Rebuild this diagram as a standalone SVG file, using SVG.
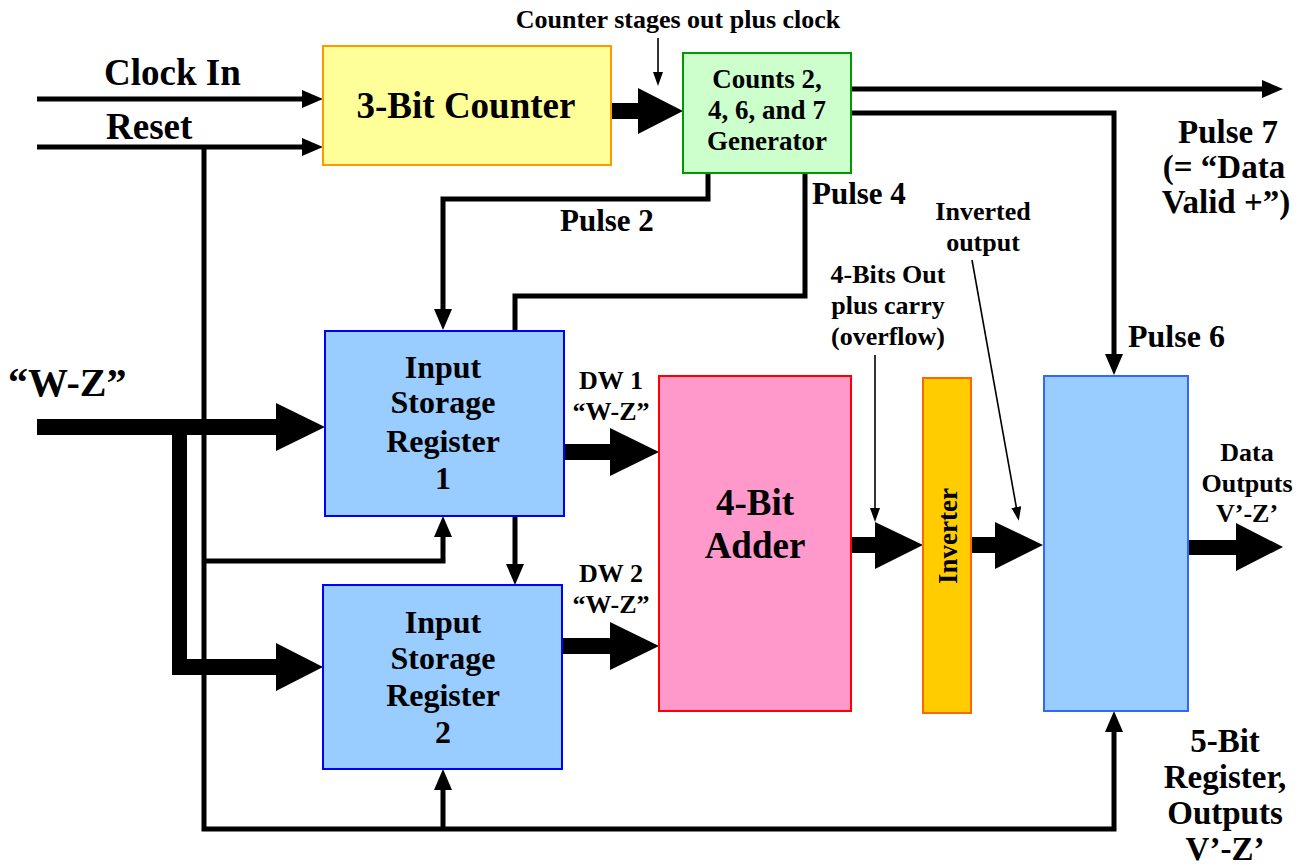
<svg xmlns="http://www.w3.org/2000/svg" width="1305" height="867" viewBox="0 0 1305 867">
<defs>
<style>
text{font-family:"Liberation Serif","Times New Roman",serif;font-weight:bold;fill:#000}
.c{text-anchor:middle}
.f40{font-size:40px}.f37{font-size:37px}.f33{font-size:33px}.f32{font-size:32px}.f31{font-size:31px}.f27{font-size:27px}.f26{font-size:26px}
.w{fill:none;stroke:#000;stroke-width:5;stroke-linejoin:miter}
.t{fill:none;stroke:#000;stroke-width:1.6}
.blk{fill:#000}
</style>
<marker id="ah" markerUnits="userSpaceOnUse" markerWidth="22" markerHeight="20" refX="8" refY="9" orient="auto"><path d="M0,0 L21,9 L0,18 z" fill="#000"/></marker>
<marker id="sa" markerUnits="userSpaceOnUse" markerWidth="16" markerHeight="12" refX="4" refY="5" orient="auto"><path d="M0,0 L14,5 L0,10 z" fill="#000"/></marker>
</defs>
<rect width="1305" height="867" fill="#fff"/>

<g id="connectors">
<path class="w" d="M37,99 H310" marker-end="url(#ah)"/>
<path class="w" d="M37,147 H310" marker-end="url(#ah)"/>
<path class="w" d="M204,147 V829 H1114 V724" marker-end="url(#ah)"/>
<path class="w" d="M204,561 H443 V529" marker-end="url(#ah)"/>
<path class="w" d="M443,829 V782" marker-end="url(#ah)"/>
<path class="w" d="M708,173 V199 H443 V317" marker-end="url(#ah)"/>
<path class="w" d="M805,173 V296 H515 V331"/>
<path class="w" d="M515,516 V572" marker-end="url(#ah)"/>
<path class="w" d="M852,89 H1270" marker-end="url(#ah)"/>
<path class="w" d="M852,113 H1114 V362" marker-end="url(#ah)"/>
<path class="t" d="M658,38 V76" marker-end="url(#sa)"/>
<path class="t" d="M875,355 V512" marker-end="url(#sa)"/>
<path class="t" d="M972,260 L1017,511" marker-end="url(#sa)"/>
<polygon class="blk" points="611,103 638,103 638,88 683,111 638,134 638,119 611,119"/>
<polygon class="blk" points="37,419 276,419 276,403 325,427 276,451 276,435 37,435"/>
<polygon class="blk" points="172,427 187,427 187,659 276,659 276,643 323,667 276,691 276,675 172,675"/>
<polygon class="blk" points="564,444 610,444 610,428 659,452 610,476 610,460 564,460"/>
<polygon class="blk" points="562,638 610,638 610,622 659,646 610,670 610,654 562,654"/>
<polygon class="blk" points="852,537 875,537 875,522 923,545 875,569 875,553 852,553"/>
<polygon class="blk" points="972,537 995,537 995,522 1043,545 995,569 995,553 972,553"/>
<polygon class="blk" points="1188,540 1236,540 1236,523 1283,547 1236,571 1236,555 1188,555"/>
</g>

<g id="counter">
<rect x="323" y="46" width="288" height="119" fill="#FFFF99" stroke="#FF9900" stroke-width="2"/>
<text class="c f37" x="466" y="118">3-Bit Counter</text>
</g>
<g id="generator">
<rect x="683" y="53" width="168" height="120" fill="#CCFFCC" stroke="#009900" stroke-width="2"/>
<text class="c f27" x="767" y="88">Counts 2,</text>
<text class="c f27" x="767" y="119">4, 6, and 7</text>
<text class="c f27" x="767" y="150">Generator</text>
</g>
<g id="reg1">
<rect x="325" y="331" width="239" height="185" fill="#99CCFF" stroke="#0000FF" stroke-width="2"/>
<text class="c f32" x="443" y="378">Input</text>
<text class="c f32" x="443" y="413">Storage</text>
<text class="c f32" x="443" y="452">Register</text>
<text class="c f32" x="443" y="489">1</text>
</g>
<g id="reg2">
<rect x="323" y="585" width="239" height="184" fill="#99CCFF" stroke="#0000FF" stroke-width="2"/>
<text class="c f32" x="443" y="633">Input</text>
<text class="c f32" x="443" y="669">Storage</text>
<text class="c f32" x="443" y="706">Register</text>
<text class="c f32" x="443" y="743">2</text>
</g>
<g id="adder">
<rect x="659" y="376" width="192" height="335" fill="#FF99CC" stroke="#FF0000" stroke-width="2"/>
<text class="c f37" x="755" y="515">4-Bit</text>
<text class="c f37" x="755" y="558">Adder</text>
</g>
<g id="inverter">
<rect x="923" y="378" width="48" height="335" fill="#FFCC00" stroke="#FF6600" stroke-width="2"/>
<text class="c f27" x="0" y="0" transform="translate(957,536) rotate(-90)">Inverter</text>
</g>
<g id="reg5">
<rect x="1044" y="376" width="144" height="335" fill="#99CCFF" stroke="#3366FF" stroke-width="2"/>
</g>

<g id="labels">
<text class="c f26" x="678" y="28">Counter stages out plus clock</text>
<text class="f37" x="104" y="85">Clock In</text>
<text class="f37" x="106" y="139">Reset</text>
<text class="f40" x="8" y="396">“W-Z”</text>
<text class="f31" x="560" y="231">Pulse 2</text>
<text class="f31" x="812" y="204">Pulse 4</text>
<text class="c f33" x="1228" y="143">Pulse 7</text>
<text class="c f33" x="1224" y="178">(= “Data</text>
<text class="c f33" x="1226" y="213">Valid +”)</text>
<text class="c f26" x="983" y="220">Inverted</text>
<text class="c f26" x="983" y="251">output</text>
<text class="c f26" x="888" y="283">4-Bits Out</text>
<text class="c f26" x="888" y="314">plus carry</text>
<text class="c f26" x="888" y="345">(overflow)</text>
<text class="f32" x="1128" y="347">Pulse 6</text>
<text class="c f26" x="611" y="389">DW 1</text>
<text class="c f26" x="611" y="420">“W-Z”</text>
<text class="c f26" x="611" y="582">DW 2</text>
<text class="c f26" x="611" y="613">“W-Z”</text>
<text class="c f26" x="1247" y="461">Data</text>
<text class="c f26" x="1247" y="492">Outputs</text>
<text class="c f26" x="1247" y="522">V’-Z’</text>
<text class="c f33" x="1225" y="752">5-Bit</text>
<text class="c f33" x="1225" y="788">Register,</text>
<text class="c f33" x="1225" y="824">Outputs</text>
<text class="c f33" x="1225" y="860">V’-Z’</text>
</g>
</svg>
